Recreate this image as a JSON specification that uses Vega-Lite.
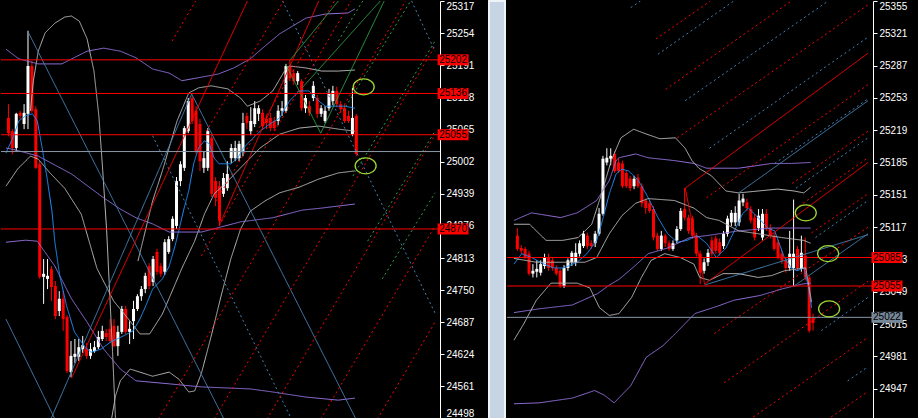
{
  "$schema": "https://vega.github.io/schema/vega-lite/v6.json",
  "background": "#000000",
  "padding": 0,
  "spacing": 0,
  "config": {
    "view": {"stroke": null, "fill": "#000000"},
    "axis": {
      "grid": false,
      "zindex": 0,
      "domainColor": "#ffffff",
      "domainWidth": 1,
      "tickColor": "#ffffff",
      "tickWidth": 1,
      "tickSize": 4,
      "labelColor": "#ffffff",
      "labelFont": "Liberation Sans",
      "labelFontSize": 10,
      "labelPadding": 2
    }
  },
  "datasets": {
    "lc": [
      {"i":0,"o":25088,"h":25115,"l":25052,"c":25058},
      {"i":1,"o":25062,"h":25066,"l":25017,"c":25029},
      {"i":2,"o":25029,"h":25098,"l":25023,"c":25096},
      {"i":3,"o":25098,"h":25102,"l":25086,"c":25092},
      {"i":4,"o":25076,"h":25115,"l":25066,"c":25098},
      {"i":5,"o":25096,"h":25259,"l":25066,"c":25190},
      {"i":6,"o":25190,"h":25200,"l":25098,"c":25102},
      {"i":7,"o":25105,"h":25111,"l":24988,"c":24990},
      {"i":8,"o":24997,"h":25003,"l":24772,"c":24776},
      {"i":9,"o":24776,"h":24811,"l":24723,"c":24782},
      {"i":10,"o":24772,"h":24811,"l":24752,"c":24778},
      {"i":11,"o":24791,"h":24797,"l":24729,"c":24756},
      {"i":12,"o":24758,"h":24768,"l":24693,"c":24699},
      {"i":13,"o":24709,"h":24748,"l":24699,"c":24733},
      {"i":14,"o":24733,"h":24748,"l":24670,"c":24693},
      {"i":15,"o":24697,"h":24701,"l":24587,"c":24591},
      {"i":16,"o":24589,"h":24650,"l":24579,"c":24621},
      {"i":17,"o":24619,"h":24654,"l":24607,"c":24625},
      {"i":18,"o":24619,"h":24654,"l":24611,"c":24638},
      {"i":19,"o":24634,"h":24660,"l":24627,"c":24642},
      {"i":20,"o":24634,"h":24646,"l":24615,"c":24621},
      {"i":21,"o":24621,"h":24646,"l":24615,"c":24634},
      {"i":22,"o":24630,"h":24650,"l":24627,"c":24638},
      {"i":23,"o":24638,"h":24670,"l":24634,"c":24658},
      {"i":24,"o":24654,"h":24680,"l":24650,"c":24670},
      {"i":25,"o":24666,"h":24674,"l":24650,"c":24658},
      {"i":26,"o":24674,"h":24693,"l":24646,"c":24650},
      {"i":27,"o":24680,"h":24693,"l":24638,"c":24640},
      {"i":28,"o":24640,"h":24680,"l":24621,"c":24668},
      {"i":29,"o":24668,"h":24719,"l":24664,"c":24713},
      {"i":30,"o":24713,"h":24719,"l":24664,"c":24668},
      {"i":31,"o":24668,"h":24689,"l":24644,"c":24674},
      {"i":32,"o":24689,"h":24729,"l":24654,"c":24713},
      {"i":33,"o":24713,"h":24742,"l":24709,"c":24738},
      {"i":34,"o":24738,"h":24758,"l":24729,"c":24752},
      {"i":35,"o":24752,"h":24784,"l":24744,"c":24778},
      {"i":36,"o":24797,"h":24803,"l":24752,"c":24758},
      {"i":37,"o":24766,"h":24817,"l":24758,"c":24811},
      {"i":38,"o":24825,"h":24831,"l":24780,"c":24786},
      {"i":39,"o":24797,"h":24803,"l":24776,"c":24782},
      {"i":40,"o":24786,"h":24850,"l":24780,"c":24844},
      {"i":41,"o":24825,"h":24856,"l":24821,"c":24850},
      {"i":42,"o":24850,"h":24895,"l":24846,"c":24890},
      {"i":43,"o":24876,"h":24972,"l":24870,"c":24964},
      {"i":44,"o":24964,"h":25003,"l":24954,"c":24997},
      {"i":45,"o":24990,"h":25072,"l":24984,"c":25068},
      {"i":46,"o":25062,"h":25127,"l":25058,"c":25121},
      {"i":47,"o":25127,"h":25131,"l":25076,"c":25082},
      {"i":48,"o":25102,"h":25111,"l":25017,"c":25023},
      {"i":49,"o":25076,"h":25086,"l":24984,"c":25003},
      {"i":50,"o":24990,"h":25023,"l":24980,"c":25009},
      {"i":51,"o":24990,"h":25068,"l":24984,"c":25062},
      {"i":52,"o":25049,"h":25056,"l":24933,"c":24939},
      {"i":53,"o":24964,"h":24972,"l":24915,"c":24931},
      {"i":54,"o":24954,"h":24964,"l":24876,"c":24886},
      {"i":55,"o":24939,"h":24980,"l":24933,"c":24970},
      {"i":56,"o":24950,"h":25003,"l":24945,"c":24978},
      {"i":57,"o":25009,"h":25037,"l":24999,"c":25029},
      {"i":58,"o":25009,"h":25043,"l":25003,"c":25029},
      {"i":59,"o":25009,"h":25043,"l":25003,"c":25037},
      {"i":60,"o":25023,"h":25098,"l":25013,"c":25078},
      {"i":61,"o":25092,"h":25098,"l":25066,"c":25078},
      {"i":62,"o":25062,"h":25109,"l":25054,"c":25082},
      {"i":63,"o":25076,"h":25121,"l":25070,"c":25107},
      {"i":64,"o":25096,"h":25113,"l":25082,"c":25107},
      {"i":65,"o":25098,"h":25105,"l":25066,"c":25072},
      {"i":66,"o":25086,"h":25094,"l":25066,"c":25078},
      {"i":67,"o":25088,"h":25098,"l":25062,"c":25068},
      {"i":68,"o":25082,"h":25090,"l":25062,"c":25068},
      {"i":69,"o":25082,"h":25113,"l":25074,"c":25102},
      {"i":70,"o":25102,"h":25121,"l":25092,"c":25107},
      {"i":71,"o":25102,"h":25194,"l":25098,"c":25190},
      {"i":72,"o":25190,"h":25200,"l":25160,"c":25166},
      {"i":73,"o":25176,"h":25184,"l":25153,"c":25160},
      {"i":74,"o":25160,"h":25180,"l":25153,"c":25176},
      {"i":75,"o":25160,"h":25164,"l":25102,"c":25107},
      {"i":76,"o":25107,"h":25133,"l":25098,"c":25127},
      {"i":77,"o":25111,"h":25121,"l":25092,"c":25098},
      {"i":78,"o":25127,"h":25160,"l":25121,"c":25151},
      {"i":79,"o":25127,"h":25133,"l":25088,"c":25096},
      {"i":80,"o":25096,"h":25113,"l":25090,"c":25107},
      {"i":81,"o":25082,"h":25111,"l":25078,"c":25102},
      {"i":82,"o":25107,"h":25145,"l":25102,"c":25135},
      {"i":83,"o":25121,"h":25151,"l":25113,"c":25141},
      {"i":84,"o":25141,"h":25149,"l":25109,"c":25115},
      {"i":85,"o":25115,"h":25121,"l":25098,"c":25105},
      {"i":86,"o":25107,"h":25113,"l":25078,"c":25082},
      {"i":87,"o":25092,"h":25102,"l":25078,"c":25082},
      {"i":88,"o":25056,"h":25147,"l":25052,"c":25088},
      {"i":89,"o":25092,"h":25096,"l":25013,"c":25017}
    ],
    "rc": [
      {"i":0,"o":25108,"h":25116,"l":25092,"c":25094},
      {"i":1,"o":25095,"h":25098,"l":25089,"c":25092},
      {"i":2,"o":25094,"h":25096,"l":25083,"c":25085},
      {"i":3,"o":25089,"h":25092,"l":25066,"c":25068},
      {"i":4,"o":25068,"h":25078,"l":25064,"c":25071},
      {"i":5,"o":25070,"h":25082,"l":25064,"c":25073},
      {"i":6,"o":25069,"h":25082,"l":25066,"c":25078},
      {"i":7,"o":25076,"h":25089,"l":25073,"c":25085},
      {"i":8,"o":25085,"h":25089,"l":25071,"c":25074},
      {"i":9,"o":25082,"h":25085,"l":25071,"c":25074},
      {"i":10,"o":25074,"h":25077,"l":25066,"c":25068},
      {"i":11,"o":25071,"h":25073,"l":25053,"c":25055},
      {"i":12,"o":25055,"h":25077,"l":25053,"c":25074},
      {"i":13,"o":25074,"h":25084,"l":25071,"c":25082},
      {"i":14,"o":25080,"h":25092,"l":25076,"c":25090},
      {"i":15,"o":25080,"h":25100,"l":25076,"c":25090},
      {"i":16,"o":25089,"h":25103,"l":25086,"c":25100},
      {"i":17,"o":25097,"h":25113,"l":25095,"c":25110},
      {"i":18,"o":25108,"h":25111,"l":25094,"c":25097},
      {"i":19,"o":25100,"h":25103,"l":25094,"c":25097},
      {"i":20,"o":25100,"h":25113,"l":25096,"c":25110},
      {"i":21,"o":25110,"h":25137,"l":25108,"c":25131},
      {"i":22,"o":25131,"h":25192,"l":25129,"c":25189},
      {"i":23,"o":25185,"h":25200,"l":25182,"c":25190},
      {"i":24,"o":25189,"h":25200,"l":25182,"c":25192},
      {"i":25,"o":25194,"h":25197,"l":25174,"c":25176},
      {"i":26,"o":25185,"h":25189,"l":25174,"c":25176},
      {"i":27,"o":25184,"h":25187,"l":25158,"c":25160},
      {"i":28,"o":25174,"h":25176,"l":25158,"c":25160},
      {"i":29,"o":25168,"h":25171,"l":25155,"c":25158},
      {"i":30,"o":25160,"h":25171,"l":25157,"c":25168},
      {"i":31,"o":25169,"h":25173,"l":25158,"c":25160},
      {"i":32,"o":25160,"h":25163,"l":25138,"c":25142},
      {"i":33,"o":25145,"h":25147,"l":25131,"c":25137},
      {"i":34,"o":25142,"h":25145,"l":25132,"c":25134},
      {"i":35,"o":25136,"h":25139,"l":25103,"c":25106},
      {"i":36,"o":25108,"h":25111,"l":25092,"c":25094},
      {"i":37,"o":25094,"h":25113,"l":25092,"c":25108},
      {"i":38,"o":25108,"h":25110,"l":25096,"c":25100},
      {"i":39,"o":25100,"h":25103,"l":25092,"c":25094},
      {"i":40,"o":25094,"h":25103,"l":25092,"c":25100},
      {"i":41,"o":25103,"h":25118,"l":25100,"c":25115},
      {"i":42,"o":25115,"h":25137,"l":25113,"c":25134},
      {"i":43,"o":25136,"h":25158,"l":25124,"c":25127},
      {"i":44,"o":25127,"h":25130,"l":25110,"c":25113},
      {"i":45,"o":25126,"h":25129,"l":25105,"c":25108},
      {"i":46,"o":25108,"h":25111,"l":25086,"c":25089},
      {"i":47,"o":25089,"h":25092,"l":25057,"c":25069},
      {"i":48,"o":25071,"h":25084,"l":25068,"c":25080},
      {"i":49,"o":25080,"h":25094,"l":25076,"c":25090},
      {"i":50,"o":25103,"h":25107,"l":25086,"c":25089},
      {"i":51,"o":25105,"h":25108,"l":25089,"c":25092},
      {"i":52,"o":25101,"h":25105,"l":25087,"c":25090},
      {"i":53,"o":25097,"h":25113,"l":25094,"c":25110},
      {"i":54,"o":25110,"h":25129,"l":25107,"c":25126},
      {"i":55,"o":25122,"h":25135,"l":25118,"c":25132},
      {"i":56,"o":25122,"h":25139,"l":25118,"c":25132},
      {"i":57,"o":25122,"h":25152,"l":25118,"c":25145},
      {"i":58,"o":25143,"h":25152,"l":25139,"c":25147},
      {"i":59,"o":25143,"h":25147,"l":25134,"c":25137},
      {"i":60,"o":25136,"h":25139,"l":25121,"c":25124},
      {"i":61,"o":25127,"h":25131,"l":25103,"c":25106},
      {"i":62,"o":25116,"h":25136,"l":25113,"c":25129},
      {"i":63,"o":25106,"h":25136,"l":25103,"c":25131},
      {"i":64,"o":25131,"h":25136,"l":25113,"c":25116},
      {"i":65,"o":25116,"h":25120,"l":25105,"c":25108},
      {"i":66,"o":25108,"h":25111,"l":25092,"c":25094},
      {"i":67,"o":25101,"h":25104,"l":25083,"c":25085},
      {"i":68,"o":25089,"h":25092,"l":25078,"c":25082},
      {"i":69,"o":25082,"h":25085,"l":25069,"c":25074},
      {"i":70,"o":25074,"h":25113,"l":25071,"c":25089},
      {"i":71,"o":25074,"h":25146,"l":25055,"c":25089},
      {"i":72,"o":25094,"h":25097,"l":25071,"c":25074},
      {"i":73,"o":25073,"h":25108,"l":25070,"c":25090},
      {"i":74,"o":25087,"h":25106,"l":25061,"c":25064},
      {"i":75,"o":25064,"h":25066,"l":25006,"c":25008},
      {"i":76,"o":25021,"h":25026,"l":25008,"c":25016}
    ],
    "ll": [
      {"g":"bb","s":"bb1","i":5.63,"p":25102},{"g":"bb","s":"bb1","i":6.38,"p":25161},{"g":"bb","s":"bb1","i":7.63,"p":25219},{"g":"bb","s":"bb1","i":9.38,"p":25255},{"g":"bb","s":"bb1","i":11.88,"p":25274},{"g":"bb","s":"bb1","i":14.38,"p":25286},{"g":"bb","s":"bb1","i":16.13,"p":25288},{"g":"bb","s":"bb1","i":18.13,"p":25278},{"g":"bb","s":"bb1","i":20.13,"p":25243},{"g":"bb","s":"bb1","i":21.88,"p":25180},{"g":"bb","s":"bb1","i":23.13,"p":25092},{"g":"bb","s":"bb1","i":24.13,"p":24984},{"g":"bb","s":"bb1","i":25.13,"p":24866},{"g":"bb","s":"bb1","i":25.88,"p":24748},{"g":"bb","s":"bb1","i":26.63,"p":24630},{"g":"bb","s":"bb1","i":27.38,"p":24497},
      {"g":"bb","s":"bb2","i":-0.63,"p":24954},{"g":"bb","s":"bb2","i":2.38,"p":24988},{"g":"bb","s":"bb2","i":5.63,"p":25013},{"g":"bb","s":"bb2","i":7.63,"p":25007},{"g":"bb","s":"bb2","i":10.63,"p":24980},{"g":"bb","s":"bb2","i":14.38,"p":24950},{"g":"bb","s":"bb2","i":18.63,"p":24899},{"g":"bb","s":"bb2","i":22.63,"p":24793},{"g":"bb","s":"bb2","i":26.88,"p":24729},{"g":"bb","s":"bb2","i":31.13,"p":24689},{"g":"bb","s":"bb2","i":33.63,"p":24664},{"g":"bb","s":"bb2","i":36.13,"p":24664},{"g":"bb","s":"bb2","i":39.38,"p":24703},{"g":"bb","s":"bb2","i":44.38,"p":24793},{"g":"bb","s":"bb2","i":47.63,"p":24846},{"g":"bb","s":"bb2","i":50.13,"p":24899},{"g":"bb","s":"bb2","i":52.63,"p":24939},{"g":"bb","s":"bb2","i":56.13,"p":24964},{"g":"bb","s":"bb2","i":59.38,"p":24990},{"g":"bb","s":"bb2","i":64.38,"p":25029},{"g":"bb","s":"bb2","i":69.38,"p":25056},{"g":"bb","s":"bb2","i":74.38,"p":25068},{"g":"bb","s":"bb2","i":79.38,"p":25072},{"g":"bb","s":"bb2","i":84.38,"p":25066},{"g":"bb","s":"bb2","i":88.63,"p":25062},
      {"g":"bb","s":"bb3","i":26.38,"p":24497},{"g":"bb","s":"bb3","i":27.38,"p":24542},{"g":"bb","s":"bb3","i":28.63,"p":24572},{"g":"bb","s":"bb3","i":31.13,"p":24595},{"g":"bb","s":"bb3","i":33.63,"p":24589},{"g":"bb","s":"bb3","i":36.88,"p":24581},{"g":"bb","s":"bb3","i":41.13,"p":24589},{"g":"bb","s":"bb3","i":43.63,"p":24575},{"g":"bb","s":"bb3","i":46.13,"p":24550},{"g":"bb","s":"bb3","i":47.63,"p":24552},{"g":"bb","s":"bb3","i":49.38,"p":24587},{"g":"bb","s":"bb3","i":51.88,"p":24660},{"g":"bb","s":"bb3","i":54.38,"p":24738},{"g":"bb","s":"bb3","i":56.88,"p":24811},{"g":"bb","s":"bb3","i":59.38,"p":24870},{"g":"bb","s":"bb3","i":61.88,"p":24905},{"g":"bb","s":"bb3","i":65.63,"p":24925},{"g":"bb","s":"bb3","i":69.38,"p":24941},{"g":"bb","s":"bb3","i":74.38,"p":24952},{"g":"bb","s":"bb3","i":79.38,"p":24968},{"g":"bb","s":"bb3","i":84.38,"p":24980},{"g":"bb","s":"bb3","i":88.63,"p":24984},
      {"g":"bb","s":"bb4","i":33.13,"p":24807},{"g":"bb","s":"bb4","i":36.88,"p":24925},{"g":"bb","s":"bb4","i":39.38,"p":24984},{"g":"bb","s":"bb4","i":43.13,"p":25082},{"g":"bb","s":"bb4","i":46.13,"p":25137},{"g":"bb","s":"bb4","i":48.63,"p":25147},{"g":"bb","s":"bb4","i":51.88,"p":25151},{"g":"bb","s":"bb4","i":56.13,"p":25145},{"g":"bb","s":"bb4","i":59.38,"p":25127},{"g":"bb","s":"bb4","i":61.13,"p":25111},{"g":"bb","s":"bb4","i":64.38,"p":25121},{"g":"bb","s":"bb4","i":67.63,"p":25141},{"g":"bb","s":"bb4","i":70.63,"p":25180},{"g":"bb","s":"bb4","i":71.88,"p":25190},{"g":"bb","s":"bb4","i":76.13,"p":25186},{"g":"bb","s":"bb4","i":80.13,"p":25180},{"g":"bb","s":"bb4","i":84.38,"p":25180},{"g":"bb","s":"bb4","i":88.63,"p":25182},
      {"g":"env","s":"e1","i":-0.63,"p":25223},{"g":"env","s":"e1","i":2.63,"p":25204},{"g":"env","s":"e1","i":7.63,"p":25194},{"g":"env","s":"e1","i":13.63,"p":25194},{"g":"env","s":"e1","i":20.13,"p":25219},{"g":"env","s":"e1","i":24.38,"p":25225},{"g":"env","s":"e1","i":28.63,"p":25219},{"g":"env","s":"e1","i":32.63,"p":25206},{"g":"env","s":"e1","i":36.88,"p":25184},{"g":"env","s":"e1","i":41.13,"p":25176},{"g":"env","s":"e1","i":44.38,"p":25161},{"g":"env","s":"e1","i":49.38,"p":25168},{"g":"env","s":"e1","i":53.63,"p":25174},{"g":"env","s":"e1","i":57.63,"p":25186},{"g":"env","s":"e1","i":61.88,"p":25204},{"g":"env","s":"e1","i":65.63,"p":25229},{"g":"env","s":"e1","i":69.38,"p":25253},{"g":"env","s":"e1","i":72.63,"p":25268},{"g":"env","s":"e1","i":76.13,"p":25284},{"g":"env","s":"e1","i":81.13,"p":25292},{"g":"env","s":"e1","i":86.88,"p":25294},{"g":"env","s":"e1","i":88.63,"p":25302},
      {"g":"env","s":"e2","i":-0.63,"p":25029},{"g":"env","s":"e2","i":1.88,"p":25025},{"g":"env","s":"e2","i":7.63,"p":25013},{"g":"env","s":"e2","i":16.13,"p":24978},{"g":"env","s":"e2","i":24.38,"p":24931},{"g":"env","s":"e2","i":28.63,"p":24909},{"g":"env","s":"e2","i":32.63,"p":24892},{"g":"env","s":"e2","i":36.88,"p":24880},{"g":"env","s":"e2","i":41.13,"p":24864},{"g":"env","s":"e2","i":49.38,"p":24864},{"g":"env","s":"e2","i":59.38,"p":24884},{"g":"env","s":"e2","i":67.63,"p":24892},{"g":"env","s":"e2","i":75.13,"p":24907},{"g":"env","s":"e2","i":80.13,"p":24911},{"g":"env","s":"e2","i":88.63,"p":24919},
      {"g":"env","s":"e3","i":-0.63,"p":24844},{"g":"env","s":"e3","i":4.38,"p":24848},{"g":"env","s":"e3","i":7.38,"p":24846},{"g":"env","s":"e3","i":11.88,"p":24797},{"g":"env","s":"e3","i":16.13,"p":24733},{"g":"env","s":"e3","i":20.13,"p":24687},{"g":"env","s":"e3","i":24.38,"p":24634},{"g":"env","s":"e3","i":28.63,"p":24595},{"g":"env","s":"e3","i":32.63,"p":24572},{"g":"env","s":"e3","i":41.13,"p":24566},{"g":"env","s":"e3","i":49.38,"p":24560},{"g":"env","s":"e3","i":61.88,"p":24556},{"g":"env","s":"e3","i":67.63,"p":24550},{"g":"env","s":"e3","i":76.13,"p":24540},{"g":"env","s":"e3","i":84.38,"p":24534},{"g":"env","s":"e3","i":88.63,"p":24538},
      {"g":"ma","s":"ma","i":-0.63,"p":25019},{"g":"ma","s":"ma","i":1.13,"p":25049},{"g":"ma","s":"ma","i":2.63,"p":25082},{"g":"ma","s":"ma","i":4.38,"p":25092},{"g":"ma","s":"ma","i":6.13,"p":25096},{"g":"ma","s":"ma","i":7.38,"p":25082},{"g":"ma","s":"ma","i":8.63,"p":25029},{"g":"ma","s":"ma","i":9.88,"p":24970},{"g":"ma","s":"ma","i":11.13,"p":24905},{"g":"ma","s":"ma","i":11.88,"p":24844},{"g":"ma","s":"ma","i":13.13,"p":24778},{"g":"ma","s":"ma","i":14.88,"p":24719},{"g":"ma","s":"ma","i":16.88,"p":24668},{"g":"ma","s":"ma","i":19.38,"p":24640},{"g":"ma","s":"ma","i":21.13,"p":24628},{"g":"ma","s":"ma","i":23.63,"p":24634},{"g":"ma","s":"ma","i":26.13,"p":24648},{"g":"ma","s":"ma","i":29.38,"p":24660},{"g":"ma","s":"ma","i":31.88,"p":24670},{"g":"ma","s":"ma","i":33.63,"p":24693},{"g":"ma","s":"ma","i":35.13,"p":24719},{"g":"ma","s":"ma","i":36.88,"p":24752},{"g":"ma","s":"ma","i":39.38,"p":24772},{"g":"ma","s":"ma","i":41.13,"p":24797},{"g":"ma","s":"ma","i":42.63,"p":24837},{"g":"ma","s":"ma","i":43.88,"p":24876},{"g":"ma","s":"ma","i":44.88,"p":24909},{"g":"ma","s":"ma","i":46.13,"p":24945},{"g":"ma","s":"ma","i":47.38,"p":24998},{"g":"ma","s":"ma","i":48.63,"p":25029},{"g":"ma","s":"ma","i":50.13,"p":25043},{"g":"ma","s":"ma","i":51.38,"p":25037},{"g":"ma","s":"ma","i":52.63,"p":25009},{"g":"ma","s":"ma","i":53.88,"p":24998},{"g":"ma","s":"ma","i":56.88,"p":24998},{"g":"ma","s":"ma","i":58.63,"p":25009},{"g":"ma","s":"ma","i":60.13,"p":25029},{"g":"ma","s":"ma","i":61.88,"p":25043},{"g":"ma","s":"ma","i":64.38,"p":25062},{"g":"ma","s":"ma","i":66.88,"p":25076},{"g":"ma","s":"ma","i":69.38,"p":25088},{"g":"ma","s":"ma","i":71.88,"p":25121},{"g":"ma","s":"ma","i":74.38,"p":25141},{"g":"ma","s":"ma","i":76.88,"p":25141},{"g":"ma","s":"ma","i":79.38,"p":25121},{"g":"ma","s":"ma","i":81.13,"p":25111},{"g":"ma","s":"ma","i":86.13,"p":25111},{"g":"ma","s":"ma","i":88.63,"p":25107},
      {"g":"tl","s":"ta","i":4.88,"p":25259},{"g":"tl","s":"ta","i":55.13,"p":24497},
      {"g":"tl","s":"tb","i":10.88,"p":24497},{"g":"tl","s":"tb","i":46.88,"p":25135},
      {"g":"tl","s":"tc","i":46.88,"p":25135},{"g":"tl","s":"tc","i":88.88,"p":24497},
      {"g":"tl","s":"td","i":-0.63,"p":24693},{"g":"tl","s":"td","i":11.88,"p":24497},
      {"g":"tld","s":"d1","i":36.88,"p":25053},{"g":"tld","s":"d1","i":72.38,"p":24497},
      {"g":"tld","s":"d2","i":70.13,"p":25317.5},{"g":"tld","s":"d2","i":109.13,"p":24705},
      {"g":"tld","s":"d3","i":103.13,"p":25317.5},{"g":"tld","s":"d3","i":109.13,"p":25219},
      {"g":"ch","s":"sr1","i":16.13,"p":24577},{"g":"ch","s":"sr1","i":61.13,"p":25317.5},
      {"g":"ch","s":"sr2","i":53.88,"p":24876},{"g":"ch","s":"sr2","i":79.38,"p":25317.5},
      {"g":"chd","s":"ra","i":41.88,"p":25239},{"g":"chd","s":"ra","i":47.88,"p":25317.5},
      {"g":"chd","s":"rb","i":50.63,"p":25062},{"g":"chd","s":"rb","i":70.38,"p":25317.5},
      {"g":"chd","s":"rc","i":53.13,"p":24925},{"g":"chd","s":"rc","i":83.38,"p":25317.5},
      {"g":"chd","s":"rx","i":49.38,"p":24817},{"g":"chd","s":"rx","i":87.63,"p":25317.5},
      {"g":"chd","s":"rd","i":38.38,"p":24497},{"g":"chd","s":"rd","i":101.63,"p":25317.5},
      {"g":"chd","s":"re","i":52.63,"p":24497},{"g":"chd","s":"re","i":109.13,"p":25229},
      {"g":"chd","s":"rf","i":66.13,"p":24497},{"g":"chd","s":"rf","i":109.13,"p":25055},
      {"g":"chd","s":"rg","i":79.88,"p":24497},{"g":"chd","s":"rg","i":109.13,"p":24876},
      {"g":"chd","s":"rh","i":94.38,"p":24497},{"g":"chd","s":"rh","i":109.13,"p":24687},
      {"g":"gz","s":"z1","i":70.88,"p":25194},{"g":"gz","s":"z1","i":79.88,"p":25058},
      {"g":"gz","s":"z2","i":79.88,"p":25058},{"g":"gz","s":"z2","i":96.13,"p":25317.5},
      {"g":"gz","s":"z3","i":71.88,"p":25200},{"g":"gz","s":"z3","i":84.38,"p":25317.5},
      {"g":"gz","s":"z4","i":75.13,"p":25147},{"g":"gz","s":"z4","i":95.13,"p":25317.5},
      {"g":"gzd","s":"w1","i":84.38,"p":25239},{"g":"gzd","s":"w1","i":90.63,"p":25317.5},
      {"g":"gzd","s":"w2","i":85.63,"p":25102},{"g":"gzd","s":"w2","i":102.88,"p":25317.5},
      {"g":"gzd","s":"w3","i":88.13,"p":24974},{"g":"gzd","s":"w3","i":109.13,"p":25239},
      {"g":"gzd","s":"w4","i":91.88,"p":24846},{"g":"gzd","s":"w4","i":109.13,"p":25062},
      {"g":"gzd","s":"w5","i":95.63,"p":24772},{"g":"gzd","s":"w5","i":109.13,"p":24941}
    ],
    "rl": [
      {"g":"ma","s":"ma","i":-0.88,"p":25078},{"g":"ma","s":"ma","i":1.13,"p":25089},{"g":"ma","s":"ma","i":3.63,"p":25085},{"g":"ma","s":"ma","i":6.88,"p":25078},{"g":"ma","s":"ma","i":9.38,"p":25074},{"g":"ma","s":"ma","i":11.88,"p":25074},{"g":"ma","s":"ma","i":15.38,"p":25080},{"g":"ma","s":"ma","i":17.88,"p":25089},{"g":"ma","s":"ma","i":20.38,"p":25103},{"g":"ma","s":"ma","i":21.88,"p":25124},{"g":"ma","s":"ma","i":23.63,"p":25152},{"g":"ma","s":"ma","i":25.38,"p":25173},{"g":"ma","s":"ma","i":26.88,"p":25178},{"g":"ma","s":"ma","i":28.63,"p":25176},{"g":"ma","s":"ma","i":31.13,"p":25166},{"g":"ma","s":"ma","i":33.63,"p":25148},{"g":"ma","s":"ma","i":36.13,"p":25127},{"g":"ma","s":"ma","i":38.63,"p":25110},{"g":"ma","s":"ma","i":41.13,"p":25101},{"g":"ma","s":"ma","i":43.63,"p":25103},{"g":"ma","s":"ma","i":46.13,"p":25108},{"g":"ma","s":"ma","i":48.63,"p":25100},{"g":"ma","s":"ma","i":51.13,"p":25085},{"g":"ma","s":"ma","i":53.63,"p":25095},{"g":"ma","s":"ma","i":56.13,"p":25116},{"g":"ma","s":"ma","i":57.88,"p":25131},{"g":"ma","s":"ma","i":59.38,"p":25137},{"g":"ma","s":"ma","i":61.88,"p":25127},{"g":"ma","s":"ma","i":64.38,"p":25116},{"g":"ma","s":"ma","i":66.13,"p":25113},{"g":"ma","s":"ma","i":68.63,"p":25085},{"g":"ma","s":"ma","i":70.38,"p":25074},{"g":"ma","s":"ma","i":71.88,"p":25071},{"g":"ma","s":"ma","i":73.63,"p":25074},{"g":"ma","s":"ma","i":74.88,"p":25053},{"g":"ma","s":"ma","i":75.63,"p":25032},
      {"g":"env","s":"e1","i":-0.88,"p":25124},{"g":"env","s":"e1","i":3.63,"p":25132},{"g":"env","s":"e1","i":11.13,"p":25127},{"g":"env","s":"e1","i":15.38,"p":25132},{"g":"env","s":"e1","i":20.38,"p":25145},{"g":"env","s":"e1","i":23.63,"p":25166},{"g":"env","s":"e1","i":25.38,"p":25187},{"g":"env","s":"e1","i":26.13,"p":25190},{"g":"env","s":"e1","i":30.38,"p":25194},{"g":"env","s":"e1","i":33.63,"p":25190},{"g":"env","s":"e1","i":40.38,"p":25187},{"g":"env","s":"e1","i":45.38,"p":25184},{"g":"env","s":"e1","i":48.63,"p":25179},{"g":"env","s":"e1","i":56.88,"p":25179},{"g":"env","s":"e1","i":65.38,"p":25184},{"g":"env","s":"e1","i":70.38,"p":25184},{"g":"env","s":"e1","i":75.38,"p":25185},
      {"g":"env","s":"e2","i":-0.88,"p":25027},{"g":"env","s":"e2","i":5.63,"p":25031},{"g":"env","s":"e2","i":14.13,"p":25035},{"g":"env","s":"e2","i":20.63,"p":25047},{"g":"env","s":"e2","i":23.63,"p":25056},{"g":"env","s":"e2","i":26.13,"p":25062},{"g":"env","s":"e2","i":29.88,"p":25075},{"g":"env","s":"e2","i":33.63,"p":25089},{"g":"env","s":"e2","i":38.63,"p":25095},{"g":"env","s":"e2","i":44.38,"p":25106},{"g":"env","s":"e2","i":48.63,"p":25108},{"g":"env","s":"e2","i":56.88,"p":25113},{"g":"env","s":"e2","i":65.38,"p":25116},{"g":"env","s":"e2","i":70.38,"p":25116},{"g":"env","s":"e2","i":75.38,"p":25116},
      {"g":"env","s":"e3","i":-0.88,"p":24931},{"g":"env","s":"e3","i":5.63,"p":24932},{"g":"env","s":"e3","i":14.13,"p":24937},{"g":"env","s":"e3","i":19.88,"p":24945},{"g":"env","s":"e3","i":22.38,"p":24940},{"g":"env","s":"e3","i":24.88,"p":24932},{"g":"env","s":"e3","i":29.13,"p":24950},{"g":"env","s":"e3","i":33.13,"p":24980},{"g":"env","s":"e3","i":37.38,"p":24992},{"g":"env","s":"e3","i":40.63,"p":25005},{"g":"env","s":"e3","i":45.63,"p":25026},{"g":"env","s":"e3","i":51.63,"p":25034},{"g":"env","s":"e3","i":55.63,"p":25040},{"g":"env","s":"e3","i":62.38,"p":25045},{"g":"env","s":"e3","i":68.13,"p":25052},{"g":"env","s":"e3","i":73.13,"p":25057},{"g":"env","s":"e3","i":75.38,"p":25058},
      {"g":"bb","s":"bu","i":-0.88,"p":25120},{"g":"bb","s":"bu","i":3.13,"p":25120},{"g":"bb","s":"bu","i":5.63,"p":25110},{"g":"bb","s":"bu","i":7.38,"p":25103},{"g":"bb","s":"bu","i":11.63,"p":25103},{"g":"bb","s":"bu","i":15.63,"p":25106},{"g":"bb","s":"bu","i":19.13,"p":25120},{"g":"bb","s":"bu","i":21.63,"p":25152},{"g":"bb","s":"bu","i":24.13,"p":25187},{"g":"bb","s":"bu","i":26.63,"p":25211},{"g":"bb","s":"bu","i":29.88,"p":25220},{"g":"bb","s":"bu","i":33.13,"p":25215},{"g":"bb","s":"bu","i":36.63,"p":25210},{"g":"bb","s":"bu","i":40.63,"p":25211},{"g":"bb","s":"bu","i":43.13,"p":25200},{"g":"bb","s":"bu","i":44.88,"p":25187},{"g":"bb","s":"bu","i":46.63,"p":25179},{"g":"bb","s":"bu","i":49.88,"p":25171},{"g":"bb","s":"bu","i":53.63,"p":25155},{"g":"bb","s":"bu","i":56.88,"p":25153},{"g":"bb","s":"bu","i":61.88,"p":25155},{"g":"bb","s":"bu","i":66.88,"p":25157},{"g":"bb","s":"bu","i":71.13,"p":25155},{"g":"bb","s":"bu","i":73.63,"p":25153},{"g":"bb","s":"bu","i":75.38,"p":25159},
      {"g":"bb","s":"bm","i":-0.88,"p":25084},{"g":"bb","s":"bm","i":4.88,"p":25080},{"g":"bb","s":"bm","i":12.38,"p":25080},{"g":"bb","s":"bm","i":17.38,"p":25080},{"g":"bb","s":"bm","i":20.38,"p":25085},{"g":"bb","s":"bm","i":23.63,"p":25110},{"g":"bb","s":"bm","i":26.88,"p":25129},{"g":"bb","s":"bm","i":30.38,"p":25142},{"g":"bb","s":"bm","i":33.63,"p":25147},{"g":"bb","s":"bm","i":40.38,"p":25145},{"g":"bb","s":"bm","i":45.38,"p":25137},{"g":"bb","s":"bm","i":48.63,"p":25127},{"g":"bb","s":"bm","i":51.88,"p":25124},{"g":"bb","s":"bm","i":56.88,"p":25113},{"g":"bb","s":"bm","i":61.88,"p":25110},{"g":"bb","s":"bm","i":67.88,"p":25106},{"g":"bb","s":"bm","i":73.63,"p":25103},{"g":"bb","s":"bm","i":75.38,"p":25100},
      {"g":"bb","s":"bl","i":-0.88,"p":24998},{"g":"bb","s":"bl","i":1.63,"p":25015},{"g":"bb","s":"bl","i":4.88,"p":25040},{"g":"bb","s":"bl","i":8.63,"p":25058},{"g":"bb","s":"bl","i":15.38,"p":25058},{"g":"bb","s":"bl","i":18.63,"p":25053},{"g":"bb","s":"bl","i":21.13,"p":25032},{"g":"bb","s":"bl","i":23.63,"p":25024},{"g":"bb","s":"bl","i":26.13,"p":25026},{"g":"bb","s":"bl","i":29.38,"p":25043},{"g":"bb","s":"bl","i":31.88,"p":25064},{"g":"bb","s":"bl","i":34.38,"p":25082},{"g":"bb","s":"bl","i":37.88,"p":25089},{"g":"bb","s":"bl","i":41.88,"p":25085},{"g":"bb","s":"bl","i":45.38,"p":25078},{"g":"bb","s":"bl","i":46.88,"p":25064},{"g":"bb","s":"bl","i":49.38,"p":25061},{"g":"bb","s":"bl","i":52.88,"p":25068},{"g":"bb","s":"bl","i":56.88,"p":25068},{"g":"bb","s":"bl","i":61.88,"p":25064},{"g":"bb","s":"bl","i":65.38,"p":25066},{"g":"bb","s":"bl","i":68.63,"p":25071},{"g":"bb","s":"bl","i":71.88,"p":25073},{"g":"bb","s":"bl","i":74.13,"p":25074},{"g":"bb","s":"bl","i":75.63,"p":25038},
      {"g":"ch","s":"zz","i":43.13,"p":25158},{"g":"ch","s":"zz","i":48.13,"p":25057},
      {"g":"ch","s":"s1","i":43.13,"p":25158},{"g":"ch","s":"s1","i":90.13,"p":25300},
      {"g":"ch","s":"s2","i":48.13,"p":25057},{"g":"ch","s":"s2","i":90.13,"p":25185},
      {"g":"tl","s":"b1","i":56.88,"p":25153},{"g":"tl","s":"b1","i":90.13,"p":25250},
      {"g":"tl","s":"b2","i":71.13,"p":25055},{"g":"tl","s":"b2","i":90.13,"p":25110},
      {"g":"tl","s":"b3","i":48.13,"p":25056},{"g":"tl","s":"b3","i":90.13,"p":25109},
      {"g":"chd","s":"r1","i":35.63,"p":25315},{"g":"chd","s":"r1","i":49.63,"p":25355},
      {"g":"chd","s":"r2","i":38.13,"p":25262},{"g":"chd","s":"r2","i":70.38,"p":25355},
      {"g":"chd","s":"r3","i":41.13,"p":25211},{"g":"chd","s":"r3","i":90.13,"p":25351},
      {"g":"chd","s":"r4","i":48.63,"p":25148},{"g":"chd","s":"r4","i":90.13,"p":25267},
      {"g":"chd","s":"r5","i":70.63,"p":25163},{"g":"chd","s":"r5","i":90.13,"p":25218},
      {"g":"chd","s":"r6","i":72.38,"p":25139},{"g":"chd","s":"r6","i":90.13,"p":25190},
      {"g":"chd","s":"r7","i":75.63,"p":25111},{"g":"chd","s":"r7","i":90.13,"p":25152},
      {"g":"chd","s":"r8","i":50.63,"p":25005},{"g":"chd","s":"r8","i":90.13,"p":25117},
      {"g":"chd","s":"r9","i":53.13,"p":24953},{"g":"chd","s":"r9","i":90.13,"p":25060},
      {"g":"chd","s":"r10","i":60.63,"p":24917},{"g":"chd","s":"r10","i":90.13,"p":25001},
      {"g":"chd","s":"r11","i":80.63,"p":24917},{"g":"chd","s":"r11","i":90.13,"p":24944},
      {"g":"tld","s":"q1","i":29.13,"p":25348},{"g":"tld","s":"q1","i":31.63,"p":25355},
      {"g":"tld","s":"q2","i":36.13,"p":25299},{"g":"tld","s":"q2","i":55.63,"p":25355},
      {"g":"tld","s":"q3","i":43.13,"p":25250},{"g":"tld","s":"q3","i":79.88,"p":25355},
      {"g":"tld","s":"q4","i":49.38,"p":25200},{"g":"tld","s":"q4","i":90.13,"p":25317},
      {"g":"tld","s":"q5","i":66.13,"p":25184},{"g":"tld","s":"q5","i":90.13,"p":25252},
      {"g":"tld","s":"q6","i":71.63,"p":25158},{"g":"tld","s":"q6","i":90.13,"p":25211},
      {"g":"tld","s":"q7","i":76.63,"p":25106},{"g":"tld","s":"q7","i":90.13,"p":25145},
      {"g":"tld","s":"q8","i":78.13,"p":25008},{"g":"tld","s":"q8","i":90.13,"p":25043},
      {"g":"tld","s":"q9","i":84.88,"p":24955},{"g":"tld","s":"q9","i":90.13,"p":24970}
    ],
    "llev": [
      {"p":25202,"kind":"sr"},{"p":25136,"kind":"sr"},{"p":25055,"kind":"sr"},{"p":25022,"kind":"bid"},{"p":24870,"kind":"sr"}
    ],
    "rlev": [
      {"p":25085,"kind":"sr"},{"p":25055,"kind":"sr"},{"p":25022,"kind":"bid"}
    ],
    "lcir": [{"i":90.88,"p":25149},{"i":91.38,"p":24994}],
    "rcir": [{"i":74.13,"p":25132},{"i":79.88,"p":25089},{"i":80.13,"p":25031}]
  },
  "hconcat": [
    {
      "width": 439,
      "height": 418,
      "layer": [
        {
          "data": {"name": "lc"},
          "mark": {"type": "rule", "strokeWidth": 1},
          "encoding": {
            "x": {"field": "i", "type": "quantitative", "scale": {"domain": [-0.625, 109.125], "nice": false, "zero": false}, "axis": null},
            "y": {"field": "l", "type": "quantitative", "scale": {"domain": [24497, 25317.5], "nice": false, "zero": false},
              "axis": {"orient": "right", "title": null, "format": "d", "labelFlush": 3, "minExtent": 48, "maxExtent": 48, "zindex": 0,
                "values": [24498, 24561, 24624, 24687, 24750, 24813, 24876, 24939, 25002, 25065, 25128, 25191, 25254, 25317]}},
            "y2": {"field": "h"},
            "color": {"condition": {"test": "datum.c < datum.o", "value": "#ff0000"}, "value": "#ffffff"}
          }
        },
        {
          "data": {"name": "lc"},
          "mark": {"type": "bar", "size": 3},
          "encoding": {
            "x": {"field": "i", "type": "quantitative", "scale": {"domain": [-0.625, 109.125], "nice": false, "zero": false}, "axis": null},
            "y": {"field": "o", "type": "quantitative", "scale": {"domain": [24497, 25317.5], "nice": false, "zero": false},
              "axis": {"orient": "right", "title": null, "format": "d", "labelFlush": 3, "minExtent": 48, "maxExtent": 48, "zindex": 0,
                "values": [24498, 24561, 24624, 24687, 24750, 24813, 24876, 24939, 25002, 25065, 25128, 25191, 25254, 25317]}},
            "y2": {"field": "c"},
            "color": {"condition": {"test": "datum.c < datum.o", "value": "#ff0000"}, "value": "#ffffff"}
          }
        },
        {
          "data": {"name": "ll"},
          "mark": {"type": "line", "strokeWidth": 1, "clip": true},
          "encoding": {
            "x": {"field": "i", "type": "quantitative", "scale": {"domain": [-0.625, 109.125], "nice": false, "zero": false}, "axis": null},
            "y": {"field": "p", "type": "quantitative", "scale": {"domain": [24497, 25317.5], "nice": false, "zero": false},
              "axis": {"orient": "right", "title": null, "format": "d", "labelFlush": 3, "minExtent": 48, "maxExtent": 48, "zindex": 0,
                "values": [24498, 24561, 24624, 24687, 24750, 24813, 24876, 24939, 25002, 25065, 25128, 25191, 25254, 25317]}},
            "detail": {"field": "s"},
            "color": {"field": "g", "type": "nominal", "legend": null,
              "scale": {"domain": ["bb", "env", "ma", "tl", "tld", "ch", "chd", "gz", "gzd"],
                "range": ["#b8b8b8", "#9370db", "#1e90ff", "#4682b4", "#4682b4", "#ff0000", "#ff0000", "#2ea043", "#2ea043"]}},
            "strokeDash": {"field": "g", "type": "nominal", "legend": null,
              "scale": {"domain": ["bb", "env", "ma", "tl", "tld", "ch", "chd", "gz", "gzd"],
                "range": [[1, 0], [1, 0], [1, 0], [1, 0], [2, 3], [1, 0], [2, 3], [1, 0], [2, 3]]}}
          }
        },
        {
          "data": {"name": "llev"},
          "mark": {"type": "rule", "strokeWidth": 1},
          "encoding": {
            "y": {"field": "p", "type": "quantitative", "scale": {"domain": [24497, 25317.5], "nice": false, "zero": false},
              "axis": {"orient": "right", "title": null, "format": "d", "labelFlush": 3, "minExtent": 48, "maxExtent": 48, "zindex": 0,
                "values": [24498, 24561, 24624, 24687, 24750, 24813, 24876, 24939, 25002, 25065, 25128, 25191, 25254, 25317]}},
            "color": {"condition": {"test": "datum.kind == 'bid'", "value": "#8a97a6"}, "value": "#ff0000"}
          }
        },
        {
          "data": {"name": "lcir"},
          "mark": {"type": "point", "shape": "M-1,0A1,0.76,0,1,1,1,0A1,0.76,0,1,1,-1,0Z", "filled": false, "color": "#a0d832", "strokeWidth": 1.3, "size": 441, "opacity": 1},
          "encoding": {
            "x": {"field": "i", "type": "quantitative", "scale": {"domain": [-0.625, 109.125], "nice": false, "zero": false}, "axis": null},
            "y": {"field": "p", "type": "quantitative", "scale": {"domain": [24497, 25317.5], "nice": false, "zero": false},
              "axis": {"orient": "right", "title": null, "format": "d", "labelFlush": 3, "minExtent": 48, "maxExtent": 48, "zindex": 0,
                "values": [24498, 24561, 24624, 24687, 24750, 24813, 24876, 24939, 25002, 25065, 25128, 25191, 25254, 25317]}}
          }
        },
        {
          "data": {"name": "llev"},
          "transform": [{"filter": "datum.kind != 'bid'"}],
          "mark": {"type": "tick", "orient": "horizontal", "size": 31, "thickness": 11, "opacity": 1},
          "encoding": {
            "x": {"datum": 113.75, "type": "quantitative", "scale": {"domain": [-0.625, 109.125], "nice": false, "zero": false}, "axis": null},
            "y": {"field": "p", "type": "quantitative", "scale": {"domain": [24497, 25317.5], "nice": false, "zero": false},
              "axis": {"orient": "right", "title": null, "format": "d", "labelFlush": 3, "minExtent": 48, "maxExtent": 48, "zindex": 0,
                "values": [24498, 24561, 24624, 24687, 24750, 24813, 24876, 24939, 25002, 25065, 25128, 25191, 25254, 25317]}},
            "color": {"value": "#ff0000"}
          }
        },
        {
          "data": {"name": "llev"},
          "transform": [{"filter": "datum.kind != 'bid'"}],
          "mark": {"type": "text", "font": "Liberation Sans", "fontSize": 10, "color": "#000000", "align": "center", "baseline": "middle"},
          "encoding": {
            "x": {"datum": 113.75, "type": "quantitative", "scale": {"domain": [-0.625, 109.125], "nice": false, "zero": false}, "axis": null},
            "y": {"field": "p", "type": "quantitative", "scale": {"domain": [24497, 25317.5], "nice": false, "zero": false},
              "axis": {"orient": "right", "title": null, "format": "d", "labelFlush": 3, "minExtent": 48, "maxExtent": 48, "zindex": 0,
                "values": [24498, 24561, 24624, 24687, 24750, 24813, 24876, 24939, 25002, 25065, 25128, 25191, 25254, 25317]}},
            "text": {"field": "p", "type": "quantitative", "format": "d"}
          }
        }
      ]
    },
    {
      "width": 16,
      "height": 418,
      "view": {"fill": "#c6d4e3", "stroke": "#eef3f8", "strokeWidth": 2},
      "data": {"values": [{"k": 0}]},
      "mark": {"type": "point", "opacity": 0},
      "encoding": {}
    },
    {
      "width": 366,
      "height": 418,
      "layer": [
        {
          "data": {"name": "rc"},
          "mark": {"type": "rule", "strokeWidth": 1},
          "encoding": {
            "x": {"field": "i", "type": "quantitative", "scale": {"domain": [-1.375, 90.125], "nice": false, "zero": false}, "axis": null},
            "y": {"field": "l", "type": "quantitative", "scale": {"domain": [24915, 25355], "nice": false, "zero": false},
              "axis": {"orient": "right", "title": null, "format": "d", "labelFlush": 3, "minExtent": 47, "maxExtent": 47, "zindex": 0,
                "values": [24947, 24981, 25015, 25049, 25083, 25117, 25151, 25185, 25219, 25253, 25287, 25321, 25355]}},
            "y2": {"field": "h"},
            "color": {"condition": {"test": "datum.c < datum.o", "value": "#ff0000"}, "value": "#ffffff"}
          }
        },
        {
          "data": {"name": "rc"},
          "mark": {"type": "bar", "size": 3},
          "encoding": {
            "x": {"field": "i", "type": "quantitative", "scale": {"domain": [-1.375, 90.125], "nice": false, "zero": false}, "axis": null},
            "y": {"field": "o", "type": "quantitative", "scale": {"domain": [24915, 25355], "nice": false, "zero": false},
              "axis": {"orient": "right", "title": null, "format": "d", "labelFlush": 3, "minExtent": 47, "maxExtent": 47, "zindex": 0,
                "values": [24947, 24981, 25015, 25049, 25083, 25117, 25151, 25185, 25219, 25253, 25287, 25321, 25355]}},
            "y2": {"field": "c"},
            "color": {"condition": {"test": "datum.c < datum.o", "value": "#ff0000"}, "value": "#ffffff"}
          }
        },
        {
          "data": {"name": "rl"},
          "mark": {"type": "line", "strokeWidth": 1, "clip": true},
          "encoding": {
            "x": {"field": "i", "type": "quantitative", "scale": {"domain": [-1.375, 90.125], "nice": false, "zero": false}, "axis": null},
            "y": {"field": "p", "type": "quantitative", "scale": {"domain": [24915, 25355], "nice": false, "zero": false},
              "axis": {"orient": "right", "title": null, "format": "d", "labelFlush": 3, "minExtent": 47, "maxExtent": 47, "zindex": 0,
                "values": [24947, 24981, 25015, 25049, 25083, 25117, 25151, 25185, 25219, 25253, 25287, 25321, 25355]}},
            "detail": {"field": "s"},
            "color": {"field": "g", "type": "nominal", "legend": null,
              "scale": {"domain": ["bb", "env", "ma", "tl", "tld", "ch", "chd", "gz", "gzd"],
                "range": ["#b8b8b8", "#9370db", "#1e90ff", "#4682b4", "#4682b4", "#ff0000", "#ff0000", "#2ea043", "#2ea043"]}},
            "strokeDash": {"field": "g", "type": "nominal", "legend": null,
              "scale": {"domain": ["bb", "env", "ma", "tl", "tld", "ch", "chd", "gz", "gzd"],
                "range": [[1, 0], [1, 0], [1, 0], [1, 0], [2, 3], [1, 0], [2, 3], [1, 0], [2, 3]]}}
          }
        },
        {
          "data": {"name": "rlev"},
          "mark": {"type": "rule", "strokeWidth": 1},
          "encoding": {
            "y": {"field": "p", "type": "quantitative", "scale": {"domain": [24915, 25355], "nice": false, "zero": false},
              "axis": {"orient": "right", "title": null, "format": "d", "labelFlush": 3, "minExtent": 47, "maxExtent": 47, "zindex": 0,
                "values": [24947, 24981, 25015, 25049, 25083, 25117, 25151, 25185, 25219, 25253, 25287, 25321, 25355]}},
            "color": {"condition": {"test": "datum.kind == 'bid'", "value": "#8a97a6"}, "value": "#ff0000"}
          }
        },
        {
          "data": {"name": "rcir"},
          "mark": {"type": "point", "shape": "M-1,0A1,0.76,0,1,1,1,0A1,0.76,0,1,1,-1,0Z", "filled": false, "color": "#a0d832", "strokeWidth": 1.3, "size": 441, "opacity": 1},
          "encoding": {
            "x": {"field": "i", "type": "quantitative", "scale": {"domain": [-1.375, 90.125], "nice": false, "zero": false}, "axis": null},
            "y": {"field": "p", "type": "quantitative", "scale": {"domain": [24915, 25355], "nice": false, "zero": false},
              "axis": {"orient": "right", "title": null, "format": "d", "labelFlush": 3, "minExtent": 47, "maxExtent": 47, "zindex": 0,
                "values": [24947, 24981, 25015, 25049, 25083, 25117, 25151, 25185, 25219, 25253, 25287, 25321, 25355]}}
          }
        },
        {
          "data": {"name": "rlev"},
          "mark": {"type": "tick", "orient": "horizontal", "size": 31, "thickness": 11, "opacity": 1},
          "encoding": {
            "x": {"datum": 95, "type": "quantitative", "scale": {"domain": [-1.375, 90.125], "nice": false, "zero": false}, "axis": null},
            "y": {"field": "p", "type": "quantitative", "scale": {"domain": [24915, 25355], "nice": false, "zero": false},
              "axis": {"orient": "right", "title": null, "format": "d", "labelFlush": 3, "minExtent": 47, "maxExtent": 47, "zindex": 0,
                "values": [24947, 24981, 25015, 25049, 25083, 25117, 25151, 25185, 25219, 25253, 25287, 25321, 25355]}},
            "color": {"condition": {"test": "datum.kind == 'bid'", "value": "#778899"}, "value": "#ff0000"}
          }
        },
        {
          "data": {"name": "rlev"},
          "mark": {"type": "text", "font": "Liberation Sans", "fontSize": 10, "color": "#000000", "align": "center", "baseline": "middle"},
          "encoding": {
            "x": {"datum": 95, "type": "quantitative", "scale": {"domain": [-1.375, 90.125], "nice": false, "zero": false}, "axis": null},
            "y": {"field": "p", "type": "quantitative", "scale": {"domain": [24915, 25355], "nice": false, "zero": false},
              "axis": {"orient": "right", "title": null, "format": "d", "labelFlush": 3, "minExtent": 47, "maxExtent": 47, "zindex": 0,
                "values": [24947, 24981, 25015, 25049, 25083, 25117, 25151, 25185, 25219, 25253, 25287, 25321, 25355]}},
            "text": {"field": "p", "type": "quantitative", "format": "d"}
          }
        }
      ]
    }
  ]
}
